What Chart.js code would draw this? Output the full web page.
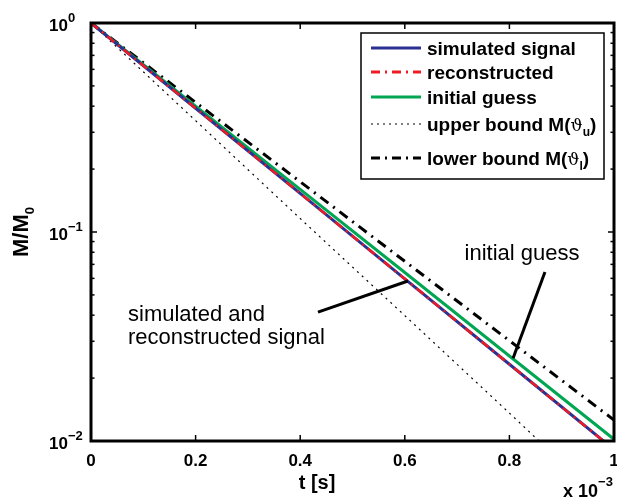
<!DOCTYPE html>
<html>
<head>
<meta charset="utf-8">
<script src="https://cdn.jsdelivr.net/npm/chart.js@4.4.1/dist/chart.umd.min.js"></script>
<style>
html, body { margin: 0; padding: 0; background: #fff; }
</style>
</head>
<body>
<canvas id="decayChart" width="617" height="501"></canvas>
<script>
// time axis in units of 1e-3 s
const tMs = [0, 0.2, 0.4, 0.6, 0.8, 1.0];
const simulated = [1, 0.391, 0.153, 0.0597, 0.0233, 0.0091];
const reconstructed = [1, 0.391, 0.153, 0.0597, 0.0233, 0.0091];
const initialGuess = [1, 0.400, 0.160, 0.064, 0.0255, 0.0102];
const upperBound = [1, 0.341, 0.116, 0.0398, 0.0136, 0.0046];
const lowerBound = [1, 0.417, 0.174, 0.0724, 0.0302, 0.0126];

const xTicks = [0, 0.2, 0.4, 0.6, 0.8, 1];
const xTickLabels = ["0", "0.2", "0.4", "0.6", "0.8", "1"];
const yDecades = [-2, -1, 0];
const yDecadeLabels = ["\u22122", "\u22121", "0"];

const FONT = "'Liberation Sans', Arial, Helvetica, sans-serif";
const BLUE = "#2a3192";
const RED = "#ed1c24";
const GREEN = "#00a651";

function toPoints(ys) {
    return tMs.map((t, i) => ({ x: t, y: ys[i] }));
}

// draws pieces of text one after another, each with its own font and vertical shift
function drawRuns(ctx, x, y, runs) {
    ctx.textAlign = "left";
    ctx.textBaseline = "alphabetic";
    for (const r of runs) {
        ctx.font = r.font;
        ctx.fillText(r.text, x, y + (r.dy || 0));
        x += ctx.measureText(r.text).width;
    }
    return x;
}

function strokeLine(ctx, x1, y1, x2, y2, width, color, dash) {
    ctx.save();
    ctx.beginPath();
    ctx.lineWidth = width;
    ctx.strokeStyle = color;
    ctx.setLineDash(dash || []);
    ctx.moveTo(x1, y1);
    ctx.lineTo(x2, y2);
    ctx.stroke();
    ctx.restore();
}

const axesPlugin = {
    id: "matlabAxes",
    afterDatasetsDraw(chart) {
        const ctx = chart.ctx;
        const a = chart.chartArea;
        const xs = chart.scales.x;
        const ys = chart.scales.y;
        ctx.save();
        ctx.fillStyle = "#000";

        // frame
        ctx.lineWidth = 3;
        ctx.strokeStyle = "#000";
        ctx.strokeRect(a.left, a.top, a.right - a.left, a.bottom - a.top);

        // x ticks, pointing inward on bottom and top
        xTicks.forEach((v, i) => {
            const px = xs.getPixelForValue(v);
            if (i > 0 && i < xTicks.length - 1) {
                strokeLine(ctx, px, a.bottom, px, a.bottom - 6, 1.5, "#000");
                strokeLine(ctx, px, a.top, px, a.top + 6, 1.5, "#000");
            }
            ctx.font = "bold 17px " + FONT;
            ctx.textAlign = "center";
            ctx.fillText(xTickLabels[i], px, a.bottom + 25);
        });

        // y ticks on the log scale: decades and minor steps
        yDecades.forEach((d, i) => {
            const py = ys.getPixelForValue(Math.pow(10, d));
            if (d > yDecades[0] && d < yDecades[yDecades.length - 1]) {
                strokeLine(ctx, a.left, py, a.left + 6, py, 1.5, "#000");
                strokeLine(ctx, a.right, py, a.right - 6, py, 1.5, "#000");
            }
            if (i < yDecades.length - 1) {
                for (let k = 2; k <= 9; k++) {
                    const pm = ys.getPixelForValue(k * Math.pow(10, d));
                    strokeLine(ctx, a.left, pm, a.left + 3.5, pm, 1.5, "#000");
                    strokeLine(ctx, a.right, pm, a.right - 3.5, pm, 1.5, "#000");
                }
            }
            const base = { text: "10", font: "bold 17px " + FONT };
            const sup = { text: yDecadeLabels[i], font: "bold 13px " + FONT, dy: -9 };
            ctx.font = base.font;
            const bw = ctx.measureText(base.text).width;
            drawRuns(ctx, a.left - 23 - bw, py + 8, [base, sup]);
        });

        // axis titles
        ctx.font = "bold 20px " + FONT;
        ctx.textAlign = "center";
        ctx.fillText("t [s]", 317, 489);
        drawRuns(ctx, 563, 497, [
            { text: "x 10", font: "bold 18px " + FONT },
            { text: "\u22123", font: "bold 13px " + FONT, dy: -11 }
        ]);
        ctx.save();
        ctx.translate(28, 257);
        ctx.rotate(-Math.PI / 2);
        drawRuns(ctx, 0, 0, [
            { text: "M/M", font: "bold 22px " + FONT },
            { text: "0", font: "bold 13px " + FONT, dy: 6 }
        ]);
        ctx.restore();

        // callouts
        const gEnd = [xs.getPixelForValue(0.807), ys.getPixelForValue(0.0249)];
        const gStart = [xs.getPixelForValue(0.868), ys.getPixelForValue(0.0644)];
        strokeLine(ctx, gStart[0], gStart[1], gEnd[0], gEnd[1], 3, "#000");
        ctx.font = "22px " + FONT;
        ctx.textAlign = "center";
        ctx.fillText("initial guess", 522, 260);

        const sEnd = [xs.getPixelForValue(0.606), ys.getPixelForValue(0.0583)];
        const sStart = [xs.getPixelForValue(0.434), ys.getPixelForValue(0.0414)];
        strokeLine(ctx, sStart[0], sStart[1], sEnd[0], sEnd[1], 3, "#000");
        ctx.textAlign = "left";
        ctx.fillText("simulated and", 128, 321);
        ctx.fillText("reconstructed signal", 128, 344);

        // legend
        const lx = 361, ly = 33, lw = 243, lh = 146;
        ctx.fillStyle = "#fff";
        ctx.fillRect(lx, ly, lw, lh);
        ctx.lineWidth = 1.5;
        ctx.strokeStyle = "#000";
        ctx.strokeRect(lx, ly, lw, lh);
        ctx.fillStyle = "#000";

        const bold = "bold 19px " + FONT;
        const theta = "17px 'DejaVu Serif', serif";
        const sub = "bold 12px " + FONT;
        const rows = [
            { y: 48, color: BLUE, width: 3, dash: [], runs: [{ text: "simulated signal", font: bold }] },
            { y: 72, color: RED, width: 3, dash: [9, 5, 2, 5], runs: [{ text: "reconstructed", font: bold }] },
            { y: 97, color: GREEN, width: 3, dash: [], runs: [{ text: "initial guess", font: bold }] },
            { y: 124, color: "#000", width: 1.2, dash: [2, 4], runs: [
                { text: "upper bound M(", font: bold },
                { text: "\u03d1", font: theta },
                { text: "u", font: sub, dy: 5 },
                { text: ")", font: bold }
            ] },
            { y: 158, color: "#000", width: 3, dash: [9, 5, 2, 5], runs: [
                { text: "lower bound M(", font: bold },
                { text: "\u03d1", font: theta },
                { text: "l", font: sub, dy: 5 },
                { text: ")", font: bold }
            ] }
        ];
        rows.forEach(r => {
            strokeLine(ctx, 371, r.y, 421, r.y, r.width, r.color, r.dash);
            drawRuns(ctx, 427, r.y + 7, r.runs);
        });

        ctx.restore();
    }
};

const ctx = document.getElementById("decayChart").getContext("2d");
new Chart(ctx, {
    type: "line",
    data: {
        datasets: [
            { label: "reconstructed", data: toPoints(reconstructed), borderColor: RED, borderWidth: 2.5, borderDash: [9, 5, 2, 5], order: 0 },
            { label: "simulated signal", data: toPoints(simulated), borderColor: BLUE, borderWidth: 3, order: 1 },
            { label: "initial guess", data: toPoints(initialGuess), borderColor: GREEN, borderWidth: 3, order: 2 },
            { label: "upper bound", data: toPoints(upperBound), borderColor: "#000", borderWidth: 1.2, borderDash: [2, 4.5], order: 3 },
            { label: "lower bound", data: toPoints(lowerBound), borderColor: "#000", borderWidth: 3, borderDash: [10, 6, 2, 6], order: 4 }
        ]
    },
    options: {
        responsive: false,
        animation: false,
        devicePixelRatio: 1,
        layout: { padding: { left: 91, top: 23, right: 3, bottom: 60 } },
        elements: { point: { radius: 0 }, line: { tension: 0, fill: false, borderCapStyle: "butt" } },
        plugins: { legend: { display: false }, tooltip: { enabled: false } },
        scales: {
            x: { type: "linear", min: 0, max: 1, display: false },
            y: { type: "logarithmic", min: 0.01, max: 1, display: false }
        }
    },
    plugins: [axesPlugin]
});
</script>
</body>
</html>
